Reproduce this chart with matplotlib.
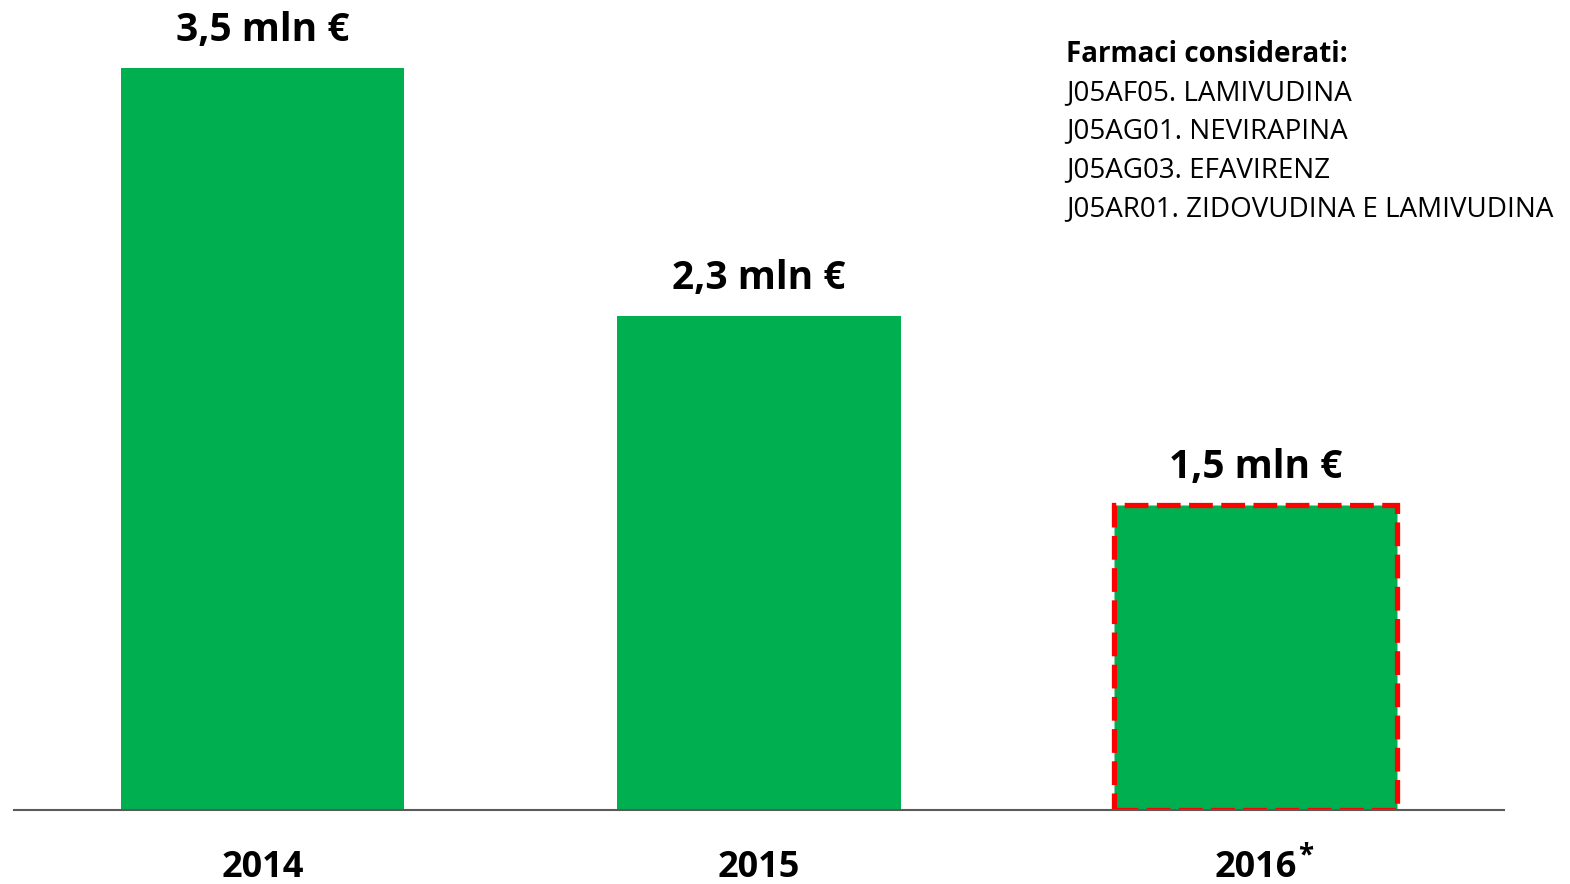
"""Spesa farmaci antiretrovirali 2014-2016: bar chart."""
import matplotlib
matplotlib.use("Agg")
import matplotlib.pyplot as plt

plt.rcParams["font.family"] = ["Open Sans", "DejaVu Sans"]

years = ["2014", "2015", "2016"]
spend_mln = [3.5, 2.33, 1.44]
value_labels = ["3,5 mln €", "2,3 mln €", "1,5 mln €"]
drug_header = "Farmaci considerati:"
drugs = ["J05AF05. LAMIVUDINA", "J05AG01. NEVIRAPINA", "J05AG03. EFAVIRENZ",
         "J05AR01. ZIDOVUDINA E LAMIVUDINA"]

GREEN = "#00B050"; RED = "#FF0000"

fig = plt.figure(figsize=(15.7, 8.84), dpi=100)
ax = fig.add_axes([14 / 1570, (884 - 810) / 884, 1490 / 1570, 810 / 884])
x = range(len(years))
bars = ax.bar(x, spend_mln, width=0.57, color=GREEN, zorder=2)
# last year is partial -> dashed red outline
bars[-1].set_edgecolor(RED); bars[-1].set_linestyle((0, (4.5, 1.6)))
bars[-1].set_linewidth(3.8)

ax.set_xlim(-0.5, 2.5)
ax.set_ylim(0, 3.5 * 810 / 742)
for s in ["top", "right", "left"]:
    ax.spines[s].set_visible(False)
ax.spines["bottom"].set_color("#5a5a5a"); ax.spines["bottom"].set_linewidth(1.5)
ax.set_yticks([])
ax.set_xticks(list(x))
ax.set_xticklabels(years, fontsize=26, fontweight="bold")
ax.tick_params(axis="x", length=0, pad=29)
ax.annotate("*", xy=(2, 0), xytext=(36, -33), textcoords="offset points",
            fontsize=20, fontweight="bold", ha="center", va="center")

for xi, v, lab in zip(x, spend_mln, value_labels):
    ax.annotate(lab, xy=(xi, v), xytext=(0, 27), textcoords="offset points",
                ha="center", va="center", fontsize=28, fontweight="bold")

tx, ty = 1066 / 1570, 1 - 54 / 884
fig.text(tx, ty, drug_header, fontsize=20, fontweight="bold", va="center", ha="left")
for i, d in enumerate(drugs, 1):
    fig.text(tx, ty - i * 38.7 / 884, d, fontsize=20, va="center", ha="left")

fig.savefig("out.png", dpi=100)
